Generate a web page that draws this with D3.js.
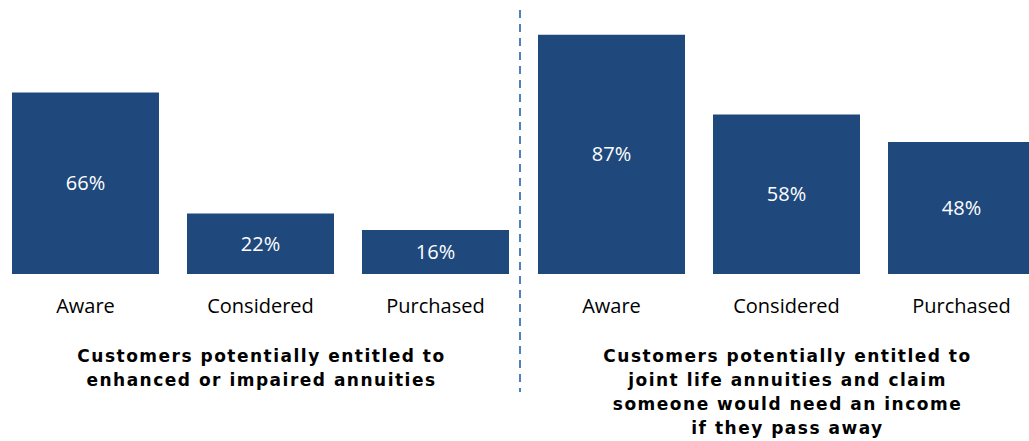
<!DOCTYPE html>
<html>
<head>
<meta charset="utf-8">
<script src="https://cdn.jsdelivr.net/npm/d3@7"></script>
<style>
  html, body { margin: 0; padding: 0; background: #fff; }
  svg { display: block; }
</style>
</head>
<body>
<svg id="chart" width="1029" height="441"></svg>
<script>
// Purchase funnel for two customer groups
const stages = ["Aware", "Considered", "Purchased"];
const enhancedValues = [66, 22, 16];
const jointLifeValues = [87, 58, 48];
const enhancedTitle = ["Customers potentially entitled to", "enhanced or impaired annuities"];
const jointLifeTitle = ["Customers potentially entitled to", "joint life annuities and claim", "someone would need an income", "if they pass away"];

const svg = d3.select("#chart");
const barColor = "#1f497d";
const baseline = 274;

const y = d3.scaleLinear().domain([0, 100]).range([baseline, baseline - 275]);

const groups = [
  { values: enhancedValues, title: enhancedTitle, range: [12, 509] },
  { values: jointLifeValues, title: jointLifeTitle, range: [538, 1035] }
];

groups.forEach(g => {
  const x = d3.scaleBand().domain(stages).range(g.range).paddingInner(0.16).paddingOuter(0);
  const data = stages.map((s, i) => ({ stage: s, value: g.values[i] }));
  const grp = svg.append("g");

  grp.selectAll("rect").data(data).join("rect")
    .attr("x", d => x(d.stage))
    .attr("y", d => y(d.value))
    .attr("width", x.bandwidth())
    .attr("height", d => baseline - y(d.value))
    .attr("fill", barColor);

  grp.selectAll("text.val").data(data).join("text")
    .attr("class", "val")
    .attr("x", d => x(d.stage) + x.bandwidth() / 2)
    .attr("y", d => (y(d.value) + baseline) / 2)
    .attr("dy", "0.35em")
    .attr("text-anchor", "middle")
    .attr("fill", "#fff")
    .style("font-family", "'Open Sans', sans-serif")
    .style("font-size", "20px")
    .text(d => d.value + "%");

  // category axis without line or ticks
  const axis = grp.append("g")
    .attr("transform", `translate(0,${baseline})`)
    .call(d3.axisBottom(x).tickSize(0).tickPadding(25));
  axis.select(".domain").remove();
  axis.selectAll("text")
    .attr("fill", "#000")
    .style("font-family", "'Open Sans', sans-serif")
    .style("font-size", "20px");

  const titleX = (x("Aware") + x("Purchased") + x.bandwidth()) / 2 + 1;
  grp.append("text")
    .attr("x", titleX)
    .attr("y", 362)
    .attr("text-anchor", "middle")
    .style("font-family", "'DejaVu Sans', Verdana, sans-serif")
    .style("font-weight", "bold")
    .style("font-size", "17px")
    .style("letter-spacing", "1.5px")
    .selectAll("tspan").data(g.title).join("tspan")
      .attr("x", titleX)
      .attr("dy", (d, i) => i === 0 ? 0 : 24)
      .text(d => d);
});

// divider between the two groups
svg.append("line")
  .attr("x1", 520).attr("x2", 520)
  .attr("y1", 10).attr("y2", 392)
  .attr("stroke", "#4f81bd")
  .attr("stroke-width", 2)
  .attr("stroke-dasharray", "8,6");
</script>
</body>
</html>
